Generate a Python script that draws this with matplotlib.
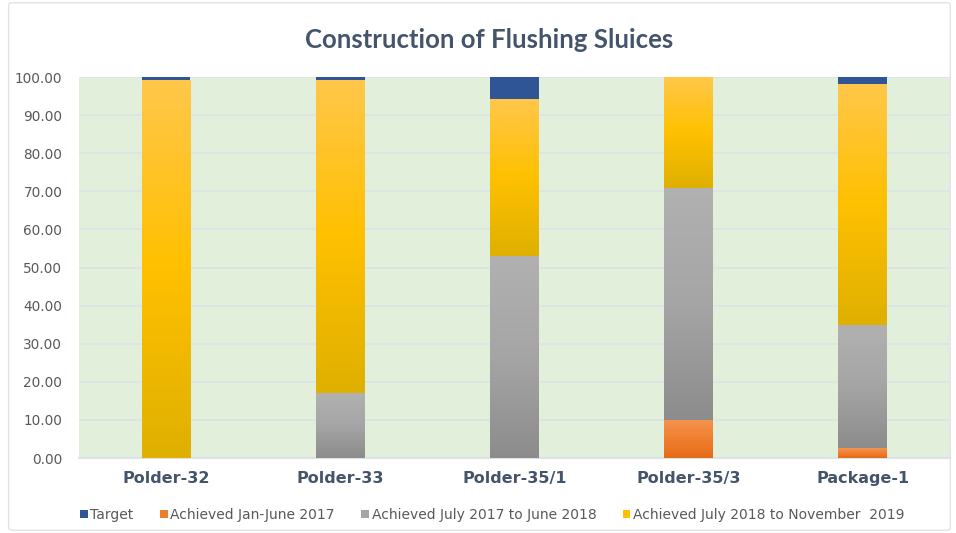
import numpy as np
import matplotlib
matplotlib.use("Agg")
import matplotlib.pyplot as plt
from matplotlib.colors import LinearSegmentedColormap
from matplotlib.patches import FancyBboxPatch

# Data
categories = ["Polder-32", "Polder-33", "Polder-35/1", "Polder-35/3", "Package-1"]
achieved_jan_jun_2017 = [0, 0, 0, 10, 2.5]
achieved_jul17_jun18 = [0, 17, 53, 61, 32.5]
achieved_jul18_nov19 = [99, 82, 41, 29, 63]
target = [1, 1, 6, 0, 2]

series_names = ["Target", "Achieved Jan-June 2017",
                "Achieved July 2017 to June 2018",
                "Achieved July 2018 to November  2019"]

# colours: solid for legend, gradient stops (top, middle, bottom) for bars
solid = {"target": "#2F5597", "orange": "#ED7D31", "gray": "#A5A5A5", "yellow": "#FFC000"}
grads = {
    "orange": ["#F4934F", "#F07F30", "#E46B18"],
    "gray": ["#B1B1B1", "#A5A5A5", "#8C8C8C"],
    "yellow": ["#FFC74A", "#FFC000", "#DFB000"],
}

fig = plt.figure(figsize=(9.56, 5.33), dpi=100)
fig.patch.set_facecolor("white")
border = FancyBboxPatch((0.009, 0.005), 0.985, 0.99, boxstyle="round,pad=0,rounding_size=0.005",
                        transform=fig.transFigure, facecolor="none", edgecolor="#E3E3E3", lw=1)
fig.patches.append(border)

ax = fig.add_axes([0.0826, 0.1407, 0.9110, 0.7148])
ax.set_facecolor("#E2EFDA")

x = np.arange(len(categories))
width = 0.28

b1 = np.array(achieved_jan_jun_2017)
b2 = b1 + np.array(achieved_jul17_jun18)
b3 = b2 + np.array(achieved_jul18_nov19)

bars_orange = ax.bar(x, achieved_jan_jun_2017, width, color=solid["orange"], zorder=2)
bars_gray = ax.bar(x, achieved_jul17_jun18, width, bottom=b1, color=solid["gray"], zorder=2)
bars_yellow = ax.bar(x, achieved_jul18_nov19, width, bottom=b2, color=solid["yellow"], zorder=2)
bars_target = ax.bar(x, target, width, bottom=b3, color=solid["target"], zorder=2)


def gradient_fill(bars, stops):
    cmap = LinearSegmentedColormap.from_list("g", stops)
    grad = np.linspace(0, 1, 256).reshape(-1, 1)
    for rect in bars:
        h = rect.get_height()
        if h <= 0:
            continue
        x0, y0, w = rect.get_x(), rect.get_y(), rect.get_width()
        ax.imshow(grad, cmap=cmap, aspect="auto", origin="upper",
                  extent=[x0, x0 + w, y0, y0 + h], zorder=3, interpolation="bilinear")


gradient_fill(bars_orange, grads["orange"])
gradient_fill(bars_gray, grads["gray"])
gradient_fill(bars_yellow, grads["yellow"])

ax.set_xlim(-0.5, len(categories) - 0.5)
ax.set_ylim(0, 100)
ax.set_yticks(np.arange(0, 101, 10))
ax.set_yticklabels([f"{v:.2f}" for v in np.arange(0, 101, 10)])
ax.set_xticks(x)
ax.set_xticklabels(categories, fontweight="bold", fontsize=11.5, color="#44546A")
ax.tick_params(axis="both", length=0)
ax.tick_params(axis="y", labelsize=9.8, labelcolor="#595959", pad=12)
ax.tick_params(axis="x", pad=9)
ax.yaxis.grid(True, color="#DCE2E6", lw=1.2, zorder=1)
ax.set_axisbelow(True)
for s in ["top", "right", "left"]:
    ax.spines[s].set_visible(False)
ax.spines["bottom"].set_color("#DCE2E6")
ax.spines["bottom"].set_linewidth(1.5)

fig.text(0.512, 0.925, "Construction of Flushing Sluices", ha="center", va="center",
         fontsize=18.5, fontweight="bold", color="#44546A", family="Lato")

handles = [bars_target, bars_orange, bars_gray, bars_yellow]
leg = fig.legend(handles, series_names, loc="center", bbox_to_anchor=(0.515, 0.034), ncol=4,
                 frameon=False, fontsize=10, handlelength=0.55, handleheight=0.55,
                 handletextpad=0.2, columnspacing=1.9)
for t in leg.get_texts():
    t.set_color("#595959")

fig.savefig("out.png", dpi=100, facecolor="white")
